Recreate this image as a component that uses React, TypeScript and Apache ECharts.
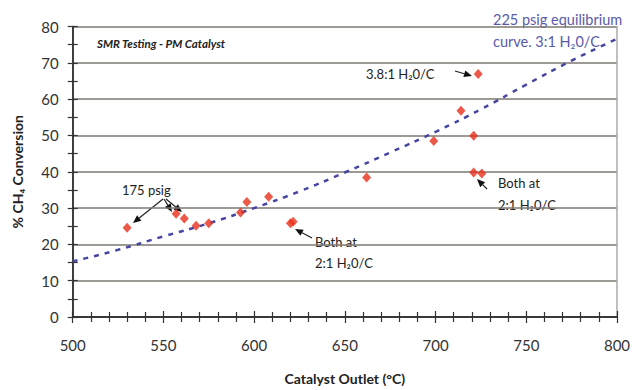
import React, { useEffect, useRef } from "react";
import * as echarts from "echarts";

// measured data (Catalyst outlet °C, % CH4 conversion)
const measuredX = [530, 557, 561.5, 568, 575, 592.5, 596, 608, 620, 621.5, 662, 699, 714, 721, 723.5, 721, 725.5];
const measuredY = [24.6, 28.4, 27.1, 25.1, 25.8, 28.8, 31.7, 33.1, 25.8, 26.2, 38.4, 48.5, 56.8, 49.9, 66.9, 39.8, 39.5];

// 225 psig equilibrium curve, 3:1 H2O/C
const curveX = [500, 525, 550, 575, 600, 625, 650, 675, 700, 725, 750, 775, 800];
const curveY = [15.3, 18.5, 22.2, 25.8, 30, 34.6, 39.8, 45.3, 51, 57.2, 64, 70.6, 76.6];

const FONT = "Lato, 'Open Sans', sans-serif";

function arrow(x1: number, y1: number, x2: number, y2: number) {
  const ang = Math.atan2(y2 - y1, x2 - x1);
  const L = 8, W = 3.5;
  const bx = x2 - L * Math.cos(ang), by = y2 - L * Math.sin(ang);
  const px = -Math.sin(ang) * W, py = Math.cos(ang) * W;
  return [
    { type: "line", shape: { x1, y1, x2: bx, y2: by }, style: { stroke: "#222", lineWidth: 1.2 } },
    { type: "polygon", shape: { points: [[x2, y2], [bx + px, by + py], [bx - px, by - py]] }, style: { fill: "#111" } },
  ];
}

export default function App() {
  const ref = useRef<HTMLDivElement>(null);
  useEffect(() => {
    if (!ref.current) return;
    const chart = echarts.init(ref.current, null, { renderer: "svg" });
    const txt = (x: number, y: number, text: string, extra: any = {}) => ({
      type: "text",
      x, y,
      style: { text, fill: "#222", font: `13px ${FONT}`, textVerticalAlign: "middle", ...extra },
    });
    const xBase: any = {
      type: "value", min: 500, max: 800, interval: 50, position: "bottom",
      axisLine: { show: true, onZero: false, lineStyle: { color: "#333", width: 1.5 } },
      splitLine: { show: false },
      minorTick: { show: true, splitNumber: 5, length: 5, lineStyle: { color: "#333", width: 1.2 } },
      minorSplitLine: { show: false },
    };
    const yBase: any = {
      type: "value", min: 0, max: 80, interval: 10, position: "left",
      axisLine: { show: true, onZero: false, lineStyle: { color: "#333", width: 1.5 } },
      minorTick: { show: true, splitNumber: 2, length: 5, lineStyle: { color: "#333", width: 1.2 } },
      minorSplitLine: { show: false },
    };
    chart.setOption({
      animation: false,
      backgroundColor: "#fff",
      grid: { left: 72.7, right: 17, top: 26.5, bottom: 71, show: false },
      xAxis: [
        {
          ...xBase,
          axisTick: { show: true, length: 6, lineStyle: { color: "#333", width: 1.2 } },
          axisLabel: { color: "#333", fontSize: 15, fontFamily: FONT, margin: 20 },
          name: "Catalyst Outlet (°C)",
          nameLocation: "middle",
          nameGap: 54,
          nameTextStyle: { color: "#222", fontSize: 14, fontWeight: "bold", fontFamily: FONT },
        },
        {
          ...xBase,
          axisTick: { show: true, inside: true, length: 6, lineStyle: { color: "#333", width: 1.2 } },
          axisLabel: { show: false },
        },
      ],
      yAxis: [
        {
          ...yBase,
          axisTick: { show: true, length: 5, lineStyle: { color: "#333", width: 1.2 } },
          axisLabel: { color: "#333", fontSize: 15, fontFamily: FONT, margin: 14 },
          splitLine: { show: true, lineStyle: { color: "#7d7873", width: 1.5 } },
          name: "% CH₄ Conversion",
          nameLocation: "middle",
          nameGap: 48,
          nameTextStyle: { color: "#222", fontSize: 14, fontWeight: "bold", fontFamily: FONT },
        },
        {
          ...yBase,
          axisTick: { show: true, inside: true, length: 5, lineStyle: { color: "#333", width: 1.2 } },
          axisLabel: { show: false },
          splitLine: { show: false },
        },
        {
          type: "value", min: 0, max: 80, position: "right",
          axisLine: { show: true, lineStyle: { color: "#aaa", width: 1.5 } },
          axisTick: { show: false }, axisLabel: { show: false }, splitLine: { show: false },
        },
      ],
      series: [
        {
          type: "line",
          data: curveX.map((x, i) => [x, curveY[i]]),
          smooth: true,
          showSymbol: false,
          lineStyle: { color: "#4646a2", width: 2.5, type: [5, 6] },
          z: 2,
        },
        {
          type: "scatter",
          data: measuredX.map((x, i) => [x, measuredY[i]]),
          symbol: "diamond",
          symbolSize: [9, 10],
          itemStyle: { color: "#e8301c" },
          z: 3,
        },
      ],
      graphic: [
        txt(97, 43, "SMR Testing - PM Catalyst", { font: `italic bold 11.5px ${FONT}` }),
        txt(493, 19, "225 psig equilibrium", { fill: "#5a5aaa", font: `14.5px ${FONT}` }),
        txt(493, 41, "curve. 3:1 H₂0/C", { fill: "#5a5aaa", font: `14.5px ${FONT}` }),
        txt(366, 74, "3.8:1 H₂0/C"),
        txt(122, 190, "175 psig"),
        txt(498, 183, "Both at"),
        txt(498, 205, "2:1 H₂0/C"),
        txt(315, 242, "Both at"),
        txt(315, 263, "2:1 H₂0/C"),
        ...arrow(163, 199, 133, 223),
        ...arrow(164, 199, 172, 212),
        ...arrow(166, 199, 182, 212),
        ...arrow(455, 71, 472, 76),
        ...arrow(487, 189, 477, 179),
        ...arrow(312, 238, 295, 229),
      ],
    });
    return () => chart.dispose();
  }, []);
  return <div ref={ref} style={{ width: 634, height: 390, position: "absolute", left: 0, top: 0 }} />;
}
